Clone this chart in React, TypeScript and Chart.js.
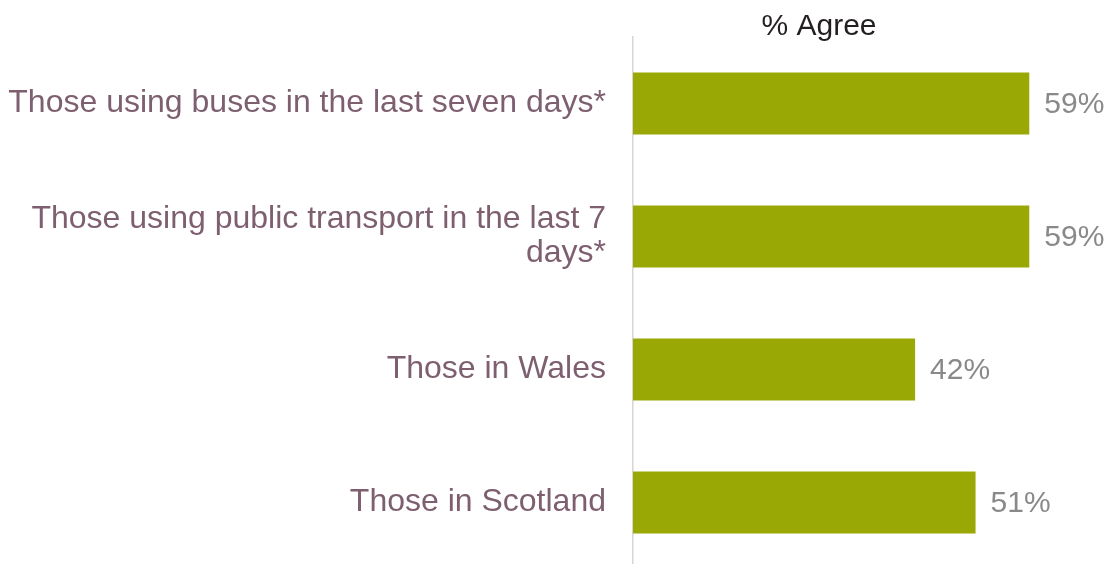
import React, { useEffect, useRef } from "react";
import { Chart, registerables } from "chart.js";

Chart.register(...registerables);

const categories: string[][] = [
  ["Those using buses in the last seven days*"],
  ["Those using public transport in the last 7", "days*"],
  ["Those in Wales"],
  ["Those in Scotland"],
];
const agreeValues = [59, 59, 42, 51];
const valueLabels = ["59%", "59%", "42%", "51%"];
const chartTitle = "% Agree";

const FONT = "Liberation Sans";

export default function App() {
  const ref = useRef<HTMLCanvasElement | null>(null);

  useEffect(() => {
    if (!ref.current) return;
    const textPlugin = {
      id: "textPlugin",
      afterDraw(chart: any) {
        const ctx = chart.ctx;
        const meta = chart.getDatasetMeta(0);
        const yScale = chart.scales.y;
        const area = chart.chartArea;
        ctx.save();
        // category labels
        ctx.font = `32px "${FONT}"`;
        ctx.fillStyle = "#7d5f70";
        ctx.textAlign = "right";
        ctx.textBaseline = "middle";
        const lh = 34;
        categories.forEach((lines, i) => {
          const cy = yScale.getPixelForTick(i);
          const start = cy - ((lines.length - 1) * lh) / 2;
          lines.forEach((ln, j) => {
            ctx.fillText(ln, area.left - 27, start + j * lh);
          });
        });
        // value labels
        ctx.font = `30px "${FONT}"`;
        ctx.fillStyle = "#898989";
        ctx.textAlign = "left";
        ctx.textBaseline = "middle";
        meta.data.forEach((bar: any, i: number) => {
          ctx.fillText(valueLabels[i], bar.x + 15, bar.y + 1);
        });
        // title
        ctx.font = `30px "${FONT}"`;
        ctx.fillStyle = "#231f20";
        ctx.textAlign = "center";
        ctx.textBaseline = "alphabetic";
        ctx.fillText(chartTitle, 819, 35);
        ctx.restore();
      },
    };

    const chart = new Chart(ref.current, {
      type: "bar",
      data: {
        labels: categories.map((c) => c.join(" ")),
        datasets: [
          {
            data: agreeValues,
            backgroundColor: "#9AA805",
            borderWidth: 0,
            categoryPercentage: 1,
            barPercentage: 0.468,
          },
        ],
      },
      options: {
        indexAxis: "y",
        animation: false,
        responsive: false,
        maintainAspectRatio: false,
        devicePixelRatio: 1,
        layout: { padding: { top: 37, right: 76, bottom: 0, left: 0 } },
        plugins: {
          legend: { display: false },
          title: { display: false },
          tooltip: { enabled: false },
        },
        scales: {
          x: {
            min: 0,
            max: 60,
            display: false,
          },
          y: {
            grid: { display: false, drawTicks: false },
            border: { display: true, color: "#dcd3d8", width: 1.5 },
            ticks: { display: false },
            afterFit: (scale: any) => {
              scale.width = 633;
            },
          },
        },
      },
      plugins: [textPlugin],
    });
    return () => chart.destroy();
  }, []);

  return (
    <div
      style={{
        position: "fixed",
        left: 0,
        top: 0,
        width: 1112,
        height: 569,
        background: "#ffffff",
      }}
    >
      <canvas
        ref={ref}
        width={1112}
        height={569}
        style={{ display: "block", width: 1112, height: 569 }}
      />
    </div>
  );
}
